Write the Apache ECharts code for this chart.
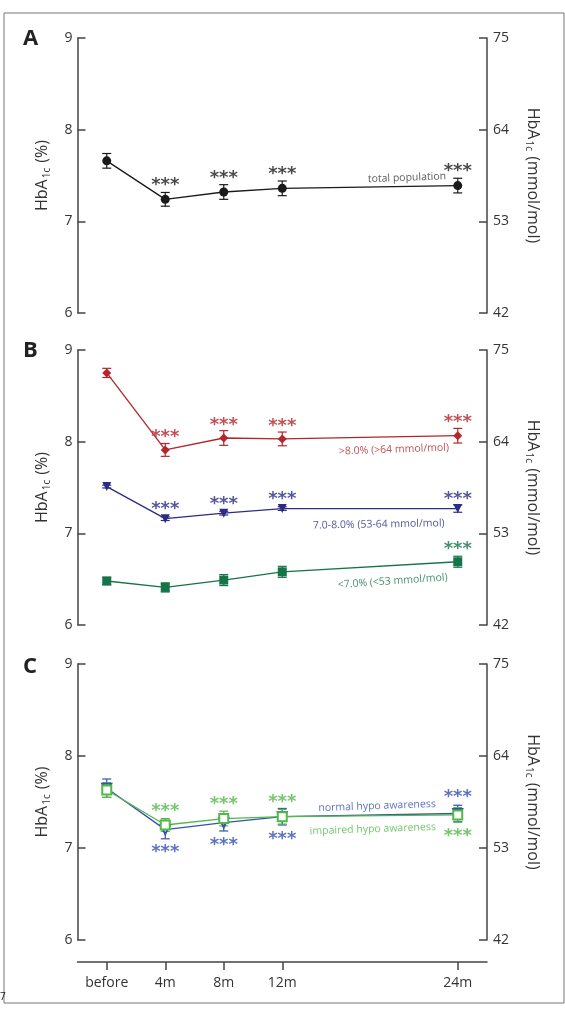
<!DOCTYPE html>
<html>
<head>
<meta charset="utf-8">
<script src="https://cdn.jsdelivr.net/npm/echarts@6/dist/echarts.min.js"></script>
<style>
  html, body { margin: 0; padding: 0; background: #fff; }
  #chart { width: 565px; height: 1019px; }
</style>
</head>
<body>
<div id="chart"></div>
<script>
// time points (months after start) and their labels
const months = [0, 4, 8, 12, 24]
const monthLabels = ['before', '4m', '8m', '12m', '24m']
const pctTicks = [6, 7, 8, 9]
const mmolTicks = [42, 53, 64, 75]

// A: total population
const totalMean = [7.66, 7.24, 7.32, 7.36, 7.39]
const totalErr = [0.08, 0.075, 0.08, 0.08, 0.08]
const totalStars = [0, 1, 1, 1, 1]

// B: by baseline HbA1c
const highMean = [8.75, 7.91, 8.04, 8.03, 8.065]
const highErr = [0.05, 0.07, 0.08, 0.075, 0.08]
const highStars = [0, 1, 1, 1, 1]
const midMean = [7.51, 7.16, 7.22, 7.27, 7.27]
const midErr = [0.015, 0.02, 0.02, 0.02, 0.04]
const midStars = [0, 1, 1, 1, 1]
const lowMean = [6.48, 6.41, 6.49, 6.58, 6.69]
const lowErr = [0.04, 0.05, 0.06, 0.06, 0.06]
const lowStars = [0, 0, 0, 0, 1]

// C: by hypo awareness (1 = stars above, -1 = below)
const normalMean = [7.65, 7.20, 7.275, 7.34, 7.375]
const normalErr = [0.1, 0.1, 0.09, 0.09, 0.09]
const normalStars = [0, -1, -1, -1, 1]
const impairedMean = [7.63, 7.25, 7.32, 7.34, 7.36]
const impairedErr = [0.08, 0.07, 0.08, 0.08, 0.08]
const impairedStars = [0, 1, 1, 1, -1]

// curve labels: [text, month, value, panel]
const curveLabels = [
  ['total population', 23.2, 7.49, 0],
  ['>8.0% (>64 mmol/mol)', 23.4, 7.935, 1],
  ['7.0-8.0% (53-64 mmol/mol)', 23.1, 7.11, 1],
  ['<7.0% (<53 mmol/mol)', 23.3, 6.52, 1],
  ['normal hypo awareness', 22.5, 7.478, 2],
  ['impaired hypo awareness', 22.5, 7.228, 2]
]

const FONT = '"Open Sans", "DejaVu Sans", sans-serif'
const AXIS = '#444'
const C_BLACK = '#1a1a1a'
const C_RED = '#b3262b'
const C_NAVY = '#2c2c86'
const C_DKGREEN = '#17744a'
const C_BLUE = '#3550b0'
const C_GREEN = '#52b848'
const labelColors = ['#333', C_RED, C_NAVY, C_DKGREEN, C_BLUE, C_GREEN]
const labelRotate = [2, 2, 1, 4, 2, 2]

const grids = [
  { left: 77.5, right: 78, top: 38, height: 275 },
  { left: 77.5, right: 78, top: 350, height: 275 },
  { left: 77.5, right: 78, top: 664, height: 276 }
]

function errRender(params, api) {
  const x = api.value(0)
  const lo = api.coord([x, api.value(1)])
  const hi = api.coord([x, api.value(2)])
  const w = 4.5
  const style = { stroke: api.visual('color'), lineWidth: 1.2 }
  return {
    type: 'group',
    children: [
      { type: 'line', shape: { x1: lo[0], y1: lo[1], x2: hi[0], y2: hi[1] }, style },
      { type: 'line', shape: { x1: lo[0] - w, y1: lo[1], x2: lo[0] + w, y2: lo[1] }, style },
      { type: 'line', shape: { x1: hi[0] - w, y1: hi[1], x2: hi[0] + w, y2: hi[1] }, style }
    ]
  }
}

// asterisk glyph sits high in its box, so nudge labels down a bit
const STAR_SHIFT = 3

function group(panel, mean, err, stars, color, marker, up, down) {
  const lineData = months.map((m, i) => [m, mean[i]])
  const errData = months.map((m, i) => [m, mean[i] - err[i], mean[i] + err[i]])
  const starData = []
  months.forEach((m, i) => {
    if (!stars[i]) return
    starData.push({
      value: [m, mean[i]],
      label: { offset: [0, (stars[i] > 0 ? -up : down) + STAR_SHIFT] }
    })
  })
  return [
    {
      type: 'custom', xAxisIndex: panel, yAxisIndex: panel * 2,
      renderItem: errRender, itemStyle: { color }, data: errData,
      encode: { x: 0, y: [1, 2] }, z: 2, silent: true
    },
    {
      type: 'line', xAxisIndex: panel, yAxisIndex: panel * 2, data: lineData,
      lineStyle: { color, width: 1.3 }, itemStyle: Object.assign({ color }, marker.itemStyle || {}),
      symbol: marker.symbol, symbolSize: marker.size, symbolRotate: marker.rotate || 0,
      showAllSymbol: true, z: 3, silent: true
    },
    {
      type: 'scatter', xAxisIndex: panel, yAxisIndex: panel * 2, data: starData,
      symbolSize: 0, silent: true, z: 4,
      label: {
        show: true, position: 'inside', formatter: '***',
        fontFamily: '"DejaVu Sans", sans-serif', fontSize: 18, fontWeight: 'bold', color
      }
    }
  ]
}

const xAxes = grids.map((g, i) => ({
  gridIndex: i, type: 'value', min: -2, max: 26,
  show: i === 2, offset: 22, position: 'bottom',
  splitLine: { show: false },
  axisLine: { show: true, onZero: false, lineStyle: { color: AXIS, width: 1.5 } },
  axisTick: { show: true, length: 8, customValues: months, lineStyle: { color: AXIS, width: 1.5 } },
  axisLabel: {
    customValues: months, margin: 14, fontFamily: FONT, fontSize: 14, color: '#333',
    formatter: v => monthLabels[months.indexOf(v)]
  }
}))

const nameRich = {
  s: { fontFamily: FONT, fontSize: 10, color: '#333', verticalAlign: 'bottom', padding: [9, 1, 0, 1] }
}
const yAxes = []
grids.forEach((g, i) => {
  const common = {
    gridIndex: i, type: 'value', min: 6, max: 9, interval: 1,
    splitLine: { show: false },
    axisLine: { show: true, onZero: false, lineStyle: { color: AXIS, width: 1.5 } },
    axisTick: { show: true, inside: true, length: 8, lineStyle: { color: AXIS, width: 1.5 } },
    nameLocation: 'middle'
  }
  yAxes.push(Object.assign({}, common, {
    position: 'left',
    name: 'HbA{s|1c} (%)', nameGap: 25.5, nameRotate: 90,
    nameTextStyle: { fontFamily: FONT, fontSize: 16, color: '#333', rich: nameRich },
    axisLabel: { fontFamily: FONT, fontSize: 14, color: '#333', margin: 5 }
  }))
  yAxes.push(Object.assign({}, common, {
    position: 'right',
    name: 'HbA{s|1c} (mmol/mol)', nameGap: 36.5, nameRotate: -90,
    nameTextStyle: { fontFamily: FONT, fontSize: 16, color: '#333', rich: nameRich },
    axisLabel: {
      fontFamily: FONT, fontSize: 14, color: '#333', margin: 6,
      formatter: v => String(mmolTicks[pctTicks.indexOf(v)])
    }
  }))
})

const series = [
  ...group(0, totalMean, totalErr, totalStars, C_BLACK, { symbol: 'circle', size: 9 }, 17, 18),
  ...group(1, highMean, highErr, highStars, C_RED, { symbol: 'diamond', size: 9 }, 16, 18),
  ...group(1, midMean, midErr, midStars, C_NAVY, { symbol: 'triangle', size: 9, rotate: 180 }, 12, 18),
  ...group(1, lowMean, lowErr, lowStars, C_DKGREEN, { symbol: 'rect', size: 9 }, 15, 18),
  ...group(2, normalMean, normalErr, normalStars, C_BLUE,
    { symbol: 'emptyTriangle', size: 9, rotate: 180, itemStyle: { borderWidth: 1.3 } }, 19, 20),
  ...group(2, impairedMean, impairedErr, impairedStars, C_GREEN,
    { symbol: 'emptyRect', size: 9, itemStyle: { borderWidth: 1.3 } }, 17, 18)
]

// curve labels
curveLabels.forEach((c, k) => {
  series.push({
    type: 'scatter', xAxisIndex: c[3], yAxisIndex: c[3] * 2, symbolSize: 0, silent: true, z: 5,
    data: [{ value: [c[1], c[2]] }],
    label: {
      show: true, position: 'left', distance: 0, formatter: c[0],
      fontFamily: FONT, fontSize: 10.5, color: labelColors[k], rotate: labelRotate[k]
    }
  })
})

const chart = echarts.init(document.getElementById('chart'), null, { renderer: 'canvas' })
chart.setOption({
  animation: false,
  backgroundColor: '#fff',
  title: ['A', 'B', 'C'].map((t, i) => ({
    text: t, left: 18, top: [23, 335, 651][i],
    textStyle: { fontFamily: FONT, fontSize: 22, fontWeight: 'bold', color: '#222' }
  })),
  graphic: [
    { type: 'rect', shape: { x: 4, y: 13, width: 560, height: 990 },
      style: { fill: 'none', stroke: '#777', lineWidth: 1 }, z: -1 },
    { type: 'text', left: 0, top: 992, style: { text: '7', fontSize: 10, fill: '#222', fontFamily: FONT } }
  ],
  grid: grids,
  xAxis: xAxes,
  yAxis: yAxes,
  series
})
</script>
</body>
</html>
